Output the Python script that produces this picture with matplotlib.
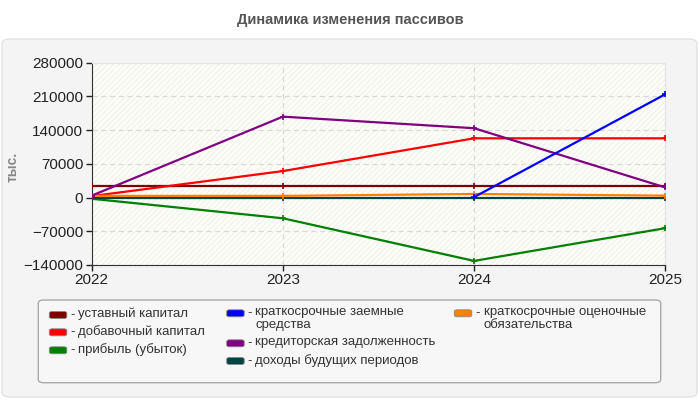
import numpy as np
import matplotlib
matplotlib.use("Agg")
import matplotlib.pyplot as plt
from matplotlib.patches import FancyBboxPatch, Rectangle

# Data (тыс.)
years = [2022, 2023, 2024, 2025]
ustavny = [25000, 25000, 25000, 25000]
dobavochny = [3000, 55000, 123000, 123000]
pribyl = [-2500, -43000, -131500, -63500]
zaemnye = [None, None, 1000, 214500]
kreditor = [4000, 168000, 144000, 21000]
dohody = [0, 0, 0, 0]
ocenochnye = [3500, 3500, 7500, 4000]

series = [
    ("уставный капитал", ustavny, "#800000"),
    ("добавочный капитал", dobavochny, "#ff0000"),
    ("прибыль (убыток)", pribyl, "#008000"),
    ("краткосрочные заемные\nсредства", zaemnye, "#0000ff"),
    ("кредиторская задолженность", kreditor, "#800080"),
    ("доходы будущих периодов", dohody, "#004444"),
    ("краткосрочные оценочные\nобязательства", ocenochnye, "#ff8000"),
]
# draw order: teal under orange
draw_order = [0, 1, 2, 5, 6, 4, 3]

yticks = [-140000, -70000, 0, 70000, 140000, 210000, 280000]

plt.rcParams['font.family'] = ['Liberation Sans', 'DejaVu Sans']
plt.rcParams['hatch.linewidth'] = 0.6

fig = plt.figure(figsize=(7, 4), dpi=100)
fig.patch.set_facecolor('white')

# outer rounded panel
panel = FancyBboxPatch((2 / 700, 3 / 400), 695 / 700, 358 / 400,
                       boxstyle="round,pad=0,rounding_size=0.012",
                       transform=fig.transFigure, facecolor='#f4f4f4',
                       edgecolor='#e2e2e2', linewidth=1, zorder=-2)
fig.patches.append(panel)

fig.text(0.5, 1 - 20 / 400, "Динамика изменения пассивов", ha='center', va='center',
         fontsize=10.5, fontweight='bold', color='#555555')

ax = fig.add_axes([91.7 / 700, 1 - 265 / 400, (665.3 - 91.7) / 700, (265 - 62.7) / 400])
ax.set_zorder(2)
ax.set_facecolor('#fefef8')
ax.add_patch(Rectangle((0, 0), 1, 1, transform=ax.transAxes, facecolor='none',
                       edgecolor='#ececec', hatch='//////', linewidth=0, zorder=0))

for i in draw_order:
    name, vals, col = series[i]
    x = [yr for yr, v in zip(years, vals) if v is not None]
    y = [v for v in vals if v is not None]
    ax.plot(x, y, color=col, linewidth=1.6, marker='+', markersize=4,
            markeredgewidth=1.2, zorder=3)

ax.set_xlim(2022, 2025)
ax.set_ylim(-140000, 280000)
ax.set_xticks(years)
ax.set_yticks(yticks)
ax.tick_params(labelsize=11, colors='#222222', length=4, width=1, pad=2)
ax.grid(True, color='#d8d8d8', linestyle=(0, (4, 3)), linewidth=0.9)
for s in ['top', 'right']:
    ax.spines[s].set_color('#e4e4e4')
for s in ['left', 'bottom']:
    ax.spines[s].set_color('#333333')
ax.set_ylabel("тыс.", color='#888888', fontsize=10, fontweight='bold')
ax.yaxis.set_label_coords((20 - 91.7) / 573.6, (265 - 167) / 202.3)

# legend box
lbox = FancyBboxPatch((38.3 / 700, 1 - 382.7 / 400), 622.4 / 700, 82.7 / 400,
                      boxstyle="round,pad=0,rounding_size=0.008",
                      transform=fig.transFigure, facecolor='#f7f7f7',
                      edgecolor='#aaaaaa', linewidth=1, zorder=1)
fig.patches.append(lbox)

# (patch left x, row centre y, text left x) in pixels
leg_pos = [(49.3, 315, 78.3), (49.3, 332.3, 78.3), (49.3, 350.3, 78.3),
           (226.7, 313.3, 255), (226.7, 343.3, 255), (226.7, 361, 255),
           (454.3, 313.3, 484)]
for (name, vals, col), (px, py, tx) in zip(series, leg_pos):
    sw = FancyBboxPatch((px / 700, 1 - (py + 3.5) / 400), 17.5 / 700, 7 / 400,
                        boxstyle="round,pad=0,rounding_size=0.004",
                        transform=fig.transFigure, facecolor=col,
                        edgecolor='#888888', linewidth=0.6, zorder=2)
    fig.patches.append(sw)
    fig.text((px + 21) / 700, 1 - py / 400, "-", ha='left', va='center',
             fontsize=9.5, color='#333333', zorder=3)
    fig.text(tx / 700, 1 - (py - 7) / 400, name, ha='left', va='top',
             fontsize=9.5, color='#333333', linespacing=1.1, zorder=3)

fig.savefig("out.png", dpi=100)
